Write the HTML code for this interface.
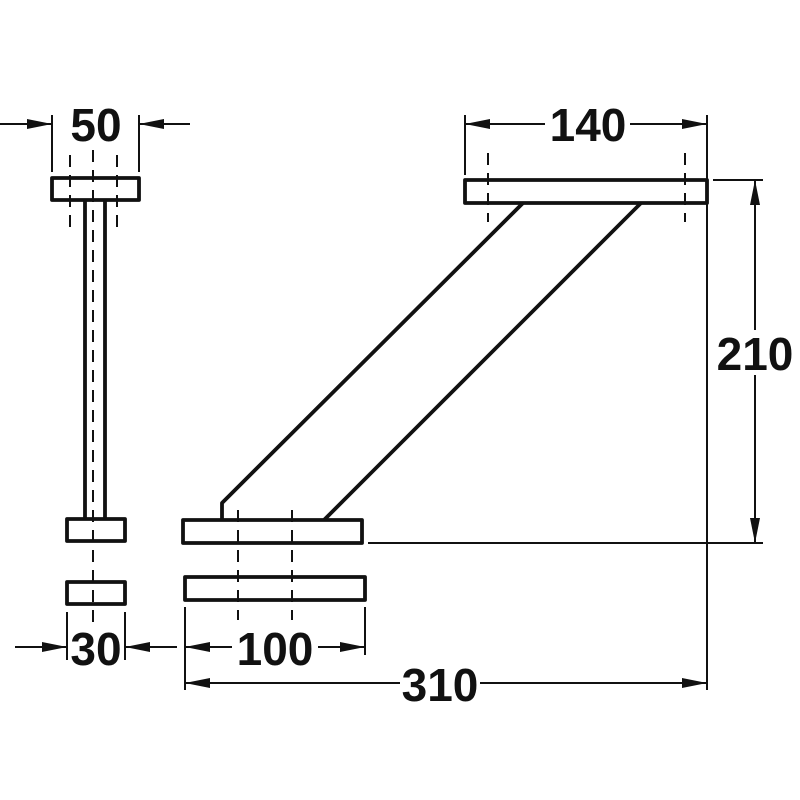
<!DOCTYPE html>
<html><head><style>html,body{margin:0;padding:0;background:#fff}svg{display:block}</style></head><body>
<svg width="800" height="800" viewBox="0 0 800 800" xmlns="http://www.w3.org/2000/svg">
<defs>
<marker id="a" viewBox="0 0 25 10" refX="25" refY="5" markerWidth="25" markerHeight="10" markerUnits="userSpaceOnUse" orient="auto"><path d="M0,0 L25,5 L0,10 Z" fill="#111"/></marker>
</defs>
<g fill="none" stroke="#111" stroke-width="3.8" stroke-linejoin="round">
<rect x="52" y="178" width="87" height="22"/>
<line x1="85" y1="200" x2="85" y2="520"/>
<line x1="105" y1="200" x2="105" y2="520"/>
<rect x="67" y="519" width="58" height="22"/>
<rect x="67" y="582" width="58" height="22"/>
<rect x="465" y="180" width="242" height="23"/>
<polyline points="523,203 222,503 222,520"/>
<line x1="641" y1="203" x2="324" y2="520"/>
<rect x="183" y="520" width="179" height="23"/>
<rect x="185" y="577" width="180" height="23"/>
</g>
<g stroke="#111" stroke-width="2" fill="none">
<g stroke-dasharray="12,8">
<line x1="93" y1="150" x2="93" y2="630"/>
<line x1="70" y1="155" x2="70" y2="230"/>
<line x1="117" y1="155" x2="117" y2="230"/>
<line x1="238" y1="510" x2="238" y2="620"/>
<line x1="292" y1="510" x2="292" y2="620"/>
<line x1="488" y1="153" x2="488" y2="222"/>
<line x1="685" y1="153" x2="685" y2="222"/>
</g>
<line x1="52" y1="115" x2="52" y2="172"/>
<line x1="139" y1="115" x2="139" y2="172"/>
<line x1="0" y1="124" x2="52" y2="124" marker-end="url(#a)"/>
<line x1="190" y1="124" x2="139" y2="124" marker-end="url(#a)"/>
<line x1="465" y1="115" x2="465" y2="175"/>
<line x1="707" y1="115" x2="707" y2="690"/>
<line x1="545" y1="124" x2="465" y2="124" marker-end="url(#a)"/>
<line x1="630" y1="124" x2="707" y2="124" marker-end="url(#a)"/>
<line x1="713" y1="180" x2="763" y2="180"/>
<line x1="368" y1="543" x2="763" y2="543"/>
<line x1="755" y1="330" x2="755" y2="180" marker-end="url(#a)"/>
<line x1="755" y1="375" x2="755" y2="543" marker-end="url(#a)"/>
<line x1="67" y1="612" x2="67" y2="660"/>
<line x1="125" y1="612" x2="125" y2="660"/>
<line x1="15" y1="647" x2="67" y2="647" marker-end="url(#a)"/>
<line x1="177" y1="647" x2="125" y2="647" marker-end="url(#a)"/>
<line x1="185" y1="607" x2="185" y2="690"/>
<line x1="365" y1="607" x2="365" y2="655"/>
<line x1="232" y1="647" x2="185" y2="647" marker-end="url(#a)"/>
<line x1="318" y1="647" x2="365" y2="647" marker-end="url(#a)"/>
<line x1="400" y1="683" x2="185" y2="683" marker-end="url(#a)"/>
<line x1="480" y1="683" x2="707" y2="683" marker-end="url(#a)"/>
</g>
<g font-family="Liberation Sans, sans-serif" font-weight="bold" font-size="46" fill="#111" text-anchor="middle">
<text x="96" y="141">50</text>
<text x="588" y="141">140</text>
<text x="755" y="370">210</text>
<text x="96" y="665">30</text>
<text x="275" y="665">100</text>
<text x="440" y="701">310</text>
</g>
</svg>
</body></html>
